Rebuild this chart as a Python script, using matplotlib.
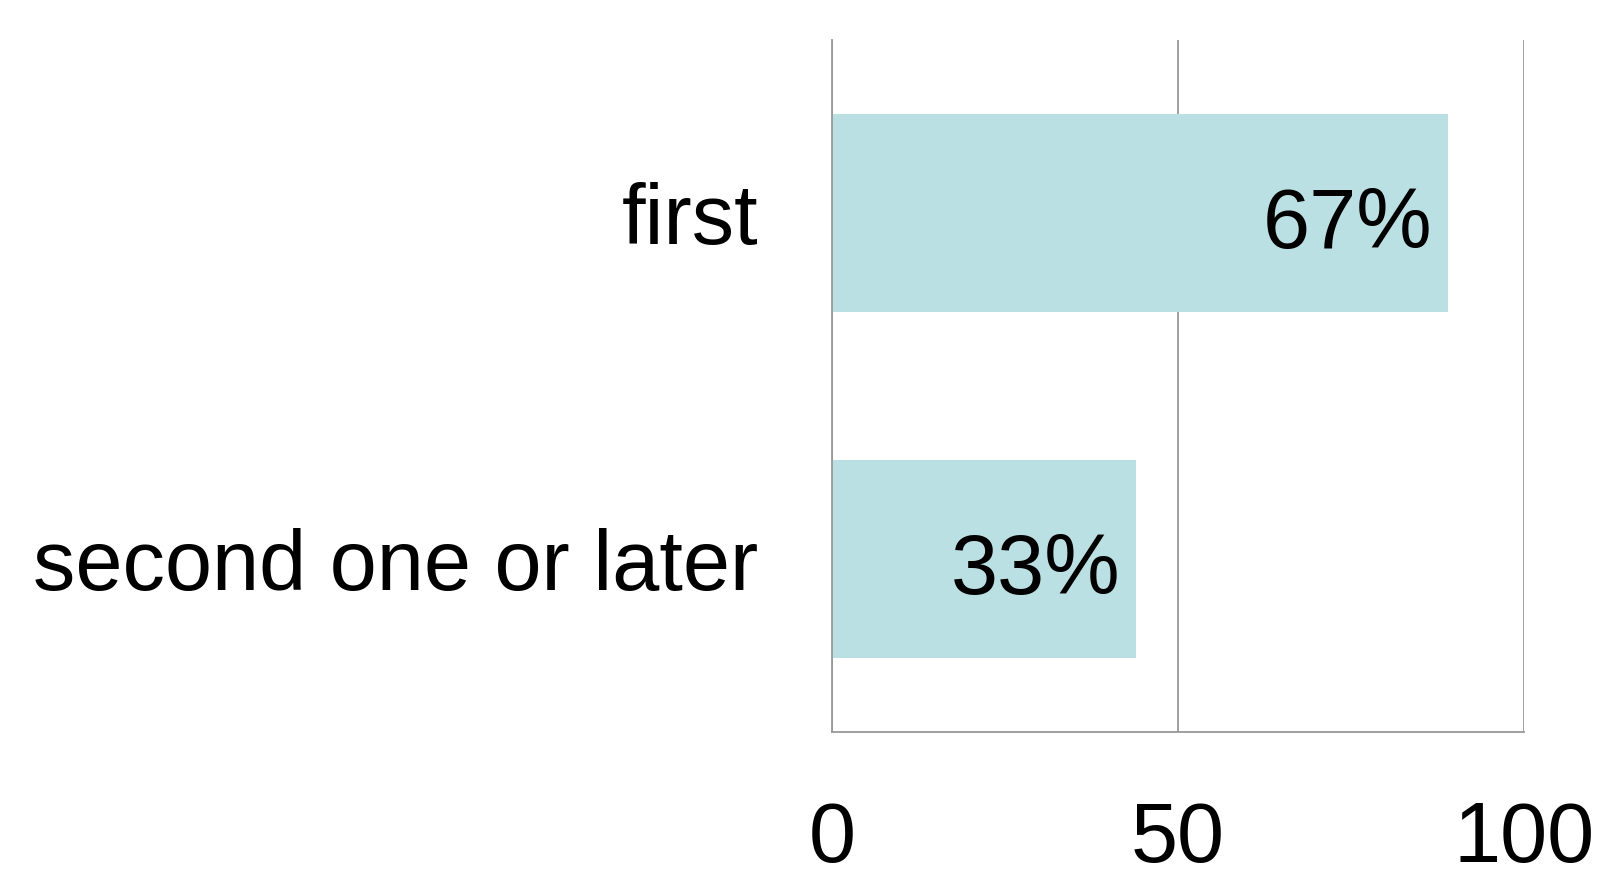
"""Horizontal bar chart: first vs. second-or-later."""

import matplotlib
matplotlib.use("Agg")
import matplotlib.pyplot as plt

categories = ["first", "second one or later"]
values = [89, 44]
labels = ["67%", "33%"]
ticks = [0, 50, 100]

BAR_COLOR = "#bbe0e3"
GRID_COLOR = "#999999"

plt.rcParams["font.family"] = ["Liberation Sans", "DejaVu Sans"]

fig = plt.figure(figsize=(16.03, 8.73), dpi=100)
# axes box in pixels: left 832, right 1524, top 40, bottom 732
ax = fig.add_axes([832 / 1603, 1 - 732 / 873, (1524 - 832) / 1603, (732 - 40) / 873])

pos = list(range(len(categories)))
ax.barh(pos, values, height=0.57, color=BAR_COLOR, zorder=2)
for p, v, lab in zip(pos, values, labels):
    # baseline a little below the bar centre so the digits sit centred
    ax.text(v - 2.3, p + 0.10, lab, ha="right", va="baseline", fontsize=61, zorder=3)

ax.set_xlim(0, 100)
ax.set_ylim(1.5, -0.5)
ax.set_xticks(ticks)
ax.set_yticks(pos)
ax.set_yticklabels(categories)
ax.tick_params(axis="both", length=0, labelsize=61)
ax.tick_params(axis="x", pad=49)
ax.tick_params(axis="y", pad=53)

ax.grid(axis="x", color=GRID_COLOR, linewidth=1.3, zorder=1)
for side in ["top", "right"]:
    ax.spines[side].set_visible(False)
for side in ["left", "bottom"]:
    ax.spines[side].set_color(GRID_COLOR)
    ax.spines[side].set_linewidth(1.3)

fig.savefig("out.png", dpi=100)
